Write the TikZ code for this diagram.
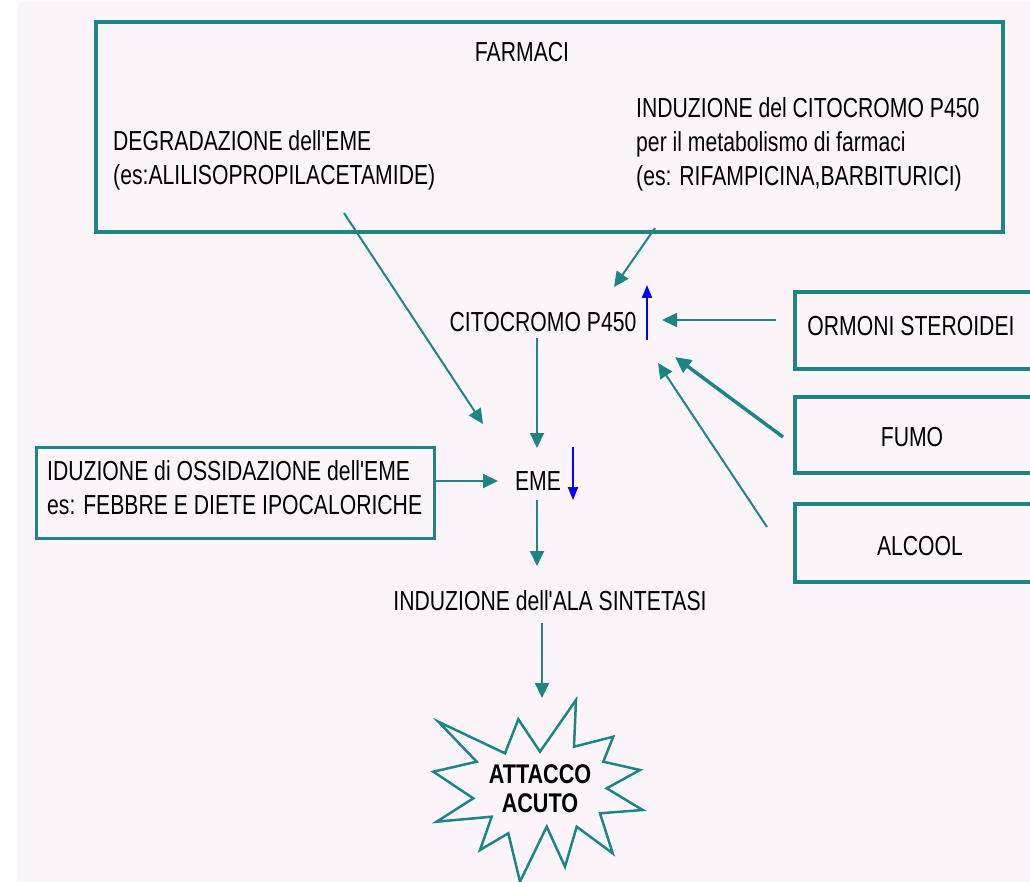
\documentclass[tikz,border=0pt]{standalone}
\usepackage{fontspec}
\newfontfamily\mainf{Liberation Sans}[FakeStretch=0.77]
\newfontfamily\boldstar{Liberation Sans}[FakeStretch=0.8]
\usetikzlibrary{arrows.meta}
\definecolor{teal1}{HTML}{1F8484}
\definecolor{bgpink}{HTML}{FBF5FA}
\definecolor{blue1}{HTML}{0000FF}
\tikzset{
  txt/.style={inner sep=0pt, font=\mainf\fontsize{27.5}{34}\selectfont, text=black},
  boxline/.style={draw=teal1, line width=3.6pt},
  conn/.style={draw=teal1, line width=2pt, -{Triangle[length=15pt,width=14pt]}},
  thickconn/.style={draw=teal1, line width=3.5pt, -{Triangle[length=16pt,width=15pt]}},
  bluearr/.style={draw=blue1, line width=2pt, -{Triangle[length=13pt,width=10pt]}},
}
\begin{document}
\begin{tikzpicture}[x=1pt,y=-1pt]
\clip (0,0) rectangle (1030,882);
\useasboundingbox (0,0) rectangle (1030,882);
\fill[white] (0,0) rectangle (1030,882);
\fill[bgpink] (18,2) rectangle (1030,882);

% boxes
\draw[boxline] (96,22) rectangle (1003,232);
\draw[boxline] (795,292) rectangle (1060,369);
\draw[boxline] (795,397) rectangle (1060,473);
\draw[boxline] (795,504) rectangle (1060,582);
\draw[boxline, line width=3pt] (36,447) rectangle (434,538);

% texts
\node[txt] (farmaci) at (522,52) {FARMACI};
\node[txt, anchor=west, align=left] (degr) at (113,160) {DEGRADAZIONE dell'EME\\(es:ALILISOPROPILACETAMIDE)};
\node[txt, anchor=west, align=left] (induz) at (636,144.5) {INDUZIONE del CITOCROMO P450\\per il metabolismo di farmaci\\(es: RIFAMPICINA,BARBITURICI)};
\node[txt] (cito) at (543,322) {CITOCROMO P450};
\node[txt] (ormoni) at (911,326) {ORMONI STEROIDEI};
\node[txt] (fumo) at (912,437) {FUMO};
\node[txt] (alcool) at (920,546) {ALCOOL};
\node[txt] (eme) at (538,481) {EME};
\node[txt, anchor=west, align=left] (iduz) at (47,488) {IDUZIONE di OSSIDAZIONE dell'EME\\es: FEBBRE E DIETE IPOCALORICHE};
\node[txt] (ala) at (550,601) {INDUZIONE dell'ALA SINTETASI};

% star
\filldraw[draw=teal1, fill=bgpink, line width=2.5pt, line join=miter]
 (438.3,721.7) -- (505,753.3) -- (518.3,719.3) -- (540,751.7) -- (576,700) -- (574,746.7)
 -- (613.3,736.7) -- (603.3,761.7) -- (640,770) -- (606.7,788.3) -- (642.7,810) -- (600,813.3)
 -- (612.7,853.3) -- (576.7,826.7) -- (565,866.7) -- (546.7,826.7) -- (520,881.7) -- (508.3,833.3)
 -- (480,850) -- (491.7,816.7) -- (436.7,821.7) -- (473.3,798.3) -- (433.3,771.7) -- (476.7,761.7) -- cycle;
\node[txt, font=\boldstar\bfseries\fontsize{27}{29}\selectfont, align=center] (attacco) at (540,789) {ATTACCO\\ACUTO};

% connector coordinates
\coordinate (a1s) at (344,213);
\coordinate (a1e) at (483,424);
\coordinate (a2s) at (655,228);
\coordinate (a2e) at (614,287);
\coordinate (ors) at (776,320);
\coordinate (ore) at (662,320);
\coordinate (fus) at (783,437);
\coordinate (fue) at (675,357);
\coordinate (als) at (767,527);
\coordinate (ale) at (658,363);
\coordinate (ces) at (537,338);
\coordinate (cee) at (537,448);
\coordinate (ies) at (434,481);
\coordinate (iee) at (498,481);
\coordinate (eas) at (537,500);
\coordinate (eae) at (537,566);
\coordinate (sts) at (542,623);
\coordinate (ste) at (542,698);
\coordinate (bus) at (647,340);
\coordinate (bue) at (647,285);
\coordinate (bds) at (573,447);
\coordinate (bde) at (573,500);

\draw[conn] (a1s) -- (a1e);
\draw[conn] (a2s) -- (a2e);
\draw[conn] (ors) -- (ore);
\draw[thickconn] (fus) -- (fue);
\draw[conn] (als) -- (ale);
\draw[conn] (ces) -- (cee);
\draw[conn] (ies) -- (iee);
\draw[conn] (eas) -- (eae);
\draw[conn] (sts) -- (ste);
\draw[bluearr] (bus) -- (bue);
\draw[bluearr] (bds) -- (bde);
\end{tikzpicture}
\end{document}
